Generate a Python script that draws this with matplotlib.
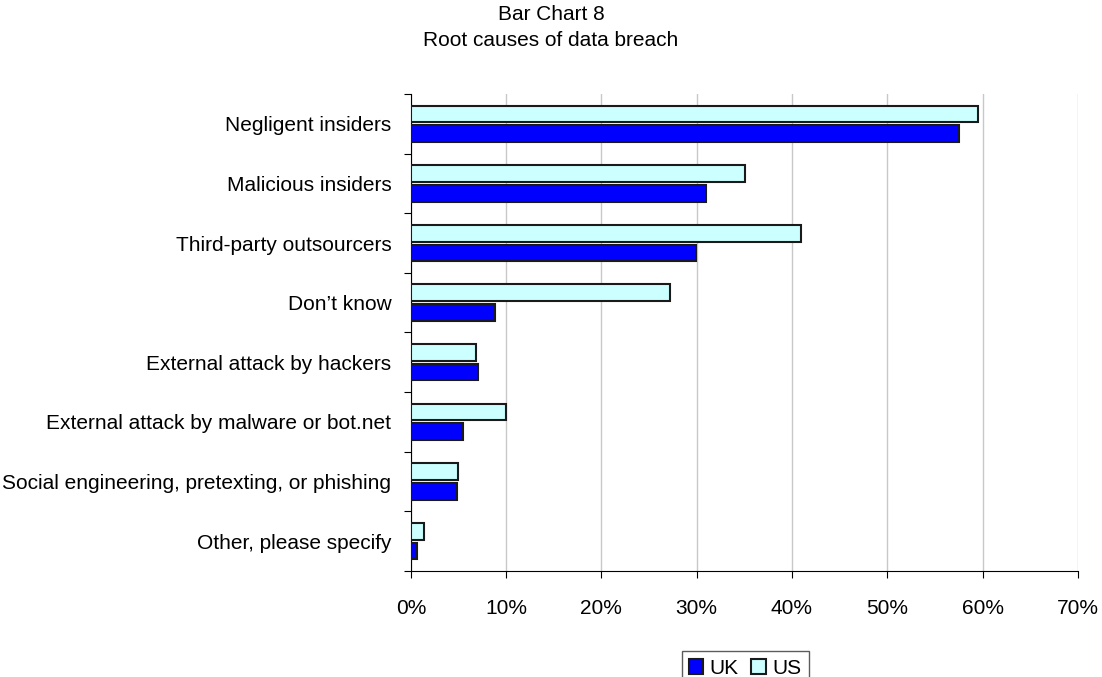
import numpy as np
import matplotlib
matplotlib.use("Agg")
from matplotlib import pyplot as plt
from matplotlib.ticker import PercentFormatter

plt.rcParams['font.family'] = ['Liberation Sans', 'DejaVu Sans']

categories = ["Negligent insiders",
              "Malicious insiders",
              "Third-party outsourcers",
              "Don\u2019t know",
              "External attack by hackers",
              "External attack by malware or bot.net",
              "Social engineering, pretexting, or phishing",
              "Other, please specify"]
uk = [57.5, 31.0, 29.9, 8.8, 7.0, 5.5, 4.8, 0.7]
us = [59.5, 35.1, 40.9, 27.2, 6.8, 10.0, 5.0, 1.4]
xticks = [0, 10, 20, 30, 40, 50, 60, 70]

fig = plt.figure(figsize=(11.02, 6.77), dpi=100)
ax = fig.add_axes([0.3728, 0.1566, 0.6053, 0.7046])

y = np.arange(len(categories))
h = 0.28
ax.barh(y - 0.165, us, height=h, color="#ccffff", edgecolor="#1a1a1a",
        linewidth=1.5, label="US", zorder=3)
ax.barh(y + 0.165, uk, height=h, color="#0000ff", edgecolor="#1a1a1a",
        linewidth=1.5, label="UK", zorder=3)

ax.set_ylim(len(categories) - 0.5, -0.5)
ax.set_xlim(0, 70)
ax.set_xticks(xticks)
ax.xaxis.set_major_formatter(PercentFormatter(decimals=0))
ax.tick_params(axis="x", direction="out", length=5, pad=15, labelsize=15)

# ticks between categories, labels at centres
ax.set_yticks(np.arange(len(categories) + 1) - 0.5)
ax.set_yticklabels([])
ax.set_yticks(y, minor=True)
ax.set_yticklabels(categories, minor=True)
ax.tick_params(axis="y", which="major", direction="out", length=5)
ax.tick_params(axis="y", which="minor", length=0, pad=14, labelsize=15)

ax.grid(axis="x", color="#c8c8c8", linewidth=1, zorder=0)
ax.spines["top"].set_visible(False)
ax.spines["right"].set_visible(False)

fig.text(0.5, 1 - 14 / 677, "Bar Chart 8", ha="center", va="center", fontsize=15)
fig.text(0.5, 1 - 40 / 677, "Root causes of data breach", ha="center",
         va="center", fontsize=15)

handles, labels = ax.get_legend_handles_labels()
leg = fig.legend(handles[::-1], labels[::-1], loc="upper center",
                 bbox_to_anchor=(745 / 1102, 1 - 641 / 677), ncol=2,
                 fontsize=15, frameon=True, fancybox=False,
                 handlelength=0.7, handleheight=0.7, handletextpad=0.3,
                 columnspacing=0.6, borderpad=0.35)
leg.get_frame().set_edgecolor("#333333")
leg.get_frame().set_linewidth(1)

fig.savefig("out.png", dpi=100)
